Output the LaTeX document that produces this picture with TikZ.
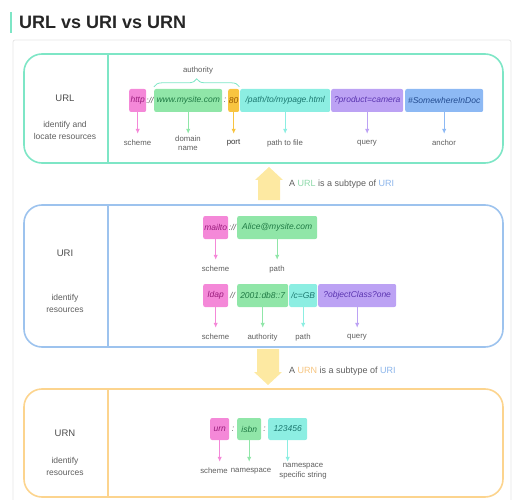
\documentclass[tikz,border=0pt]{standalone}
\usepackage{fontspec}
\setmainfont{Liberation Sans}
\usetikzlibrary{arrows.meta}
\usetikzlibrary{decorations.pathreplacing}

\definecolor{mint}{HTML}{7EE6C6}
\definecolor{sky}{HTML}{9DC3EE}
\definecolor{sand}{HTML}{FCD48E}
\definecolor{butter}{HTML}{FDE9A2}
\definecolor{pinkbox}{HTML}{F488D8}
\definecolor{pinktxt}{HTML}{9A1C7C}
\definecolor{greenbox}{HTML}{90E6A8}
\definecolor{greentxt}{HTML}{1F7A44}
\definecolor{cyanbox}{HTML}{8CEEE2}
\definecolor{cyantxt}{HTML}{1C7870}
\definecolor{purplebox}{HTML}{BCA2F4}
\definecolor{purpletxt}{HTML}{5A34B0}
\definecolor{bluebox}{HTML}{8DB9F4}
\definecolor{bluetxt}{HTML}{234C90}
\definecolor{portbox}{HTML}{F8C440}
\definecolor{porttxt}{HTML}{985800}
\definecolor{greytxt}{HTML}{5E5E5E}
\definecolor{urlword}{HTML}{8CD8A8}
\definecolor{uriword}{HTML}{8AB4EA}
\definecolor{urnword}{HTML}{F6C47E}

\begin{document}
\begin{tikzpicture}[x=1pt, y=-1pt]
   \tikzset{FrameStyle/.style={draw, line width=1.6pt, rounded corners=18pt, minimum width=479pt, inner sep=0pt}}
   \tikzset{SegStyle/.style={rounded corners=2pt, minimum height=23pt, inner xsep=0.5pt, inner ysep=0pt, anchor=west, font=\fontsize{8.5}{10}\selectfont\itshape}}
   \tikzset{pinkSeg/.style={SegStyle, fill=pinkbox, text=pinktxt}}
   \tikzset{greenSeg/.style={SegStyle, fill=greenbox, text=greentxt}}
   \tikzset{cyanSeg/.style={SegStyle, fill=cyanbox, text=cyantxt}}
   \tikzset{purpleSeg/.style={SegStyle, fill=purplebox, text=purpletxt}}
   \tikzset{blueSeg/.style={SegStyle, fill=bluebox, text=bluetxt}}
   \tikzset{portSeg/.style={SegStyle, fill=portbox, text=porttxt}}
   \tikzset{SepStyle/.style={inner sep=0pt, text=greytxt, font=\fontsize{8.5}{10}\selectfont\itshape}}
   \tikzset{LabelStyle/.style={inner sep=0pt, minimum height=18pt, align=center, text=greytxt, font=\fontsize{7.8}{9.5}\selectfont}}
   \tikzset{KindStyle/.style={inner sep=0pt, text=black!70, font=\fontsize{9.5}{11}\selectfont}}
   \tikzset{DescStyle/.style={inner sep=0pt, align=center, text=greytxt, font=\fontsize{8.5}{12}\selectfont}}
   \tikzset{ArrowStyle/.style={-{Latex[length=5pt,width=4.5pt]}, line width=1pt}}
   \useasboundingbox (0,0) rectangle (525,500);
   % title and card
   \draw[mint, line width=2.5pt] (11,12) -- (11,33);
   \node[anchor=west, inner sep=0pt, text=black!85, font=\fontsize{18}{20}\selectfont\bfseries] (title) at (19,22) {URL vs URI vs URN};
   \draw[black!10, line width=0.8pt, rounded corners=2pt] (13,510) -- (13,40) -- (511,40) -- (511,510);
   % frames
   \node[FrameStyle, mint, minimum height=109pt] (urlFrame) at (263.5,108.5) {};
   \node[FrameStyle, sky, minimum height=142pt] (uriFrame) at (263.5,276) {};
   \node[FrameStyle, sand, minimum height=108pt] (urnFrame) at (263.5,443) {};
   \draw[mint, line width=1.6pt] ([xshift=85pt]urlFrame.north west) -- ([xshift=85pt]urlFrame.south west);
   \draw[sky, line width=1.6pt] ([xshift=85pt]uriFrame.north west) -- ([xshift=85pt]uriFrame.south west);
   \draw[sand, line width=1.6pt] ([xshift=85pt]urnFrame.north west) -- ([xshift=85pt]urnFrame.south west);
   \node[KindStyle] (urlKind) at (65,98) {URL};
   \node[DescStyle] (urlDesc) at (65,130) {identify and\\locate resources};
   \node[KindStyle] (uriKind) at (65,253) {URI};
   \node[DescStyle] (uriDesc) at (65,303.5) {identify\\resources};
   \node[KindStyle] (urnKind) at (65,433) {URN};
   \node[DescStyle] (urnDesc) at (65,466) {identify\\resources};
   % URL
   \node[pinkSeg, minimum width=17pt] (http) at (129,100.5) {http};
   \node[SepStyle] (sepA) at (150,100.5) {://};
   \node[greenSeg, minimum width=68pt] (dom) at (154,100.5) {www.mysite.com};
   \node[SepStyle] (sepB) at (225,100.5) {:};
   \node[portSeg, minimum width=11pt] (port) at (228,100.5) {80};
   \node[cyanSeg, minimum width=90pt] (file) at (240,100.5) {/path/to/mypage.html};
   \node[purpleSeg, minimum width=72pt] (query) at (331,100.5) {?product=camera};
   \node[blueSeg, minimum width=78pt] (anchor) at (405,100.5) {\#SomewhereInDoc};
   \draw[mint, line width=0.8pt, decorate, decoration={brace, amplitude=8pt}] ([yshift=2pt]dom.north west) -- ([yshift=2pt]port.north east);
   \node[LabelStyle, minimum height=0pt] (authA) at (198,70) {authority};
   \node[LabelStyle] (lScheme) at (137.5,143) {scheme};
   \node[LabelStyle] (lDomain) at (188,143) {domain\\name};
   \node[LabelStyle, text=black!80] (lPort) at (233.5,143) {port};
   \node[LabelStyle] (lFile) at (285,143) {path to file};
   \node[LabelStyle] (lQuery) at (367,143) {query};
   \node[LabelStyle] (lAnchor) at (444,143) {anchor};
   \draw[ArrowStyle, pinkbox] (http) -- (http |- lScheme.north);
   \draw[ArrowStyle, greenbox] (dom) -- (dom |- lDomain.north);
   \draw[ArrowStyle, portbox] (port) -- (port |- lPort.north);
   \draw[ArrowStyle, cyanbox] (file) -- (file |- lFile.north);
   \draw[ArrowStyle, purplebox] (query) -- (query |- lQuery.north);
   \draw[ArrowStyle, bluebox] (anchor) -- (anchor |- lAnchor.north);
   % URL -> URI
   \fill[butter] (258,200) -- (258,180) -- (255,180) -- (269,167) -- (283,180) -- (280,180) -- (280,200) -- cycle;
   \node[anchor=west, inner sep=0pt, text=greytxt, font=\fontsize{9}{11}\selectfont] (urlNote) at (289,184) {A \textcolor{urlword}{URL} is a subtype of \textcolor{uriword}{URI}};
   % URI
   \node[pinkSeg, minimum width=25pt] (mailto) at (203,227.5) {mailto};
   \node[SepStyle] (sepC) at (232.5,227.5) {://};
   \node[greenSeg, minimum width=80pt] (alice) at (237,227.5) {Alice@mysite.com};
   \node[LabelStyle] (lMailto) at (215.5,269) {scheme};
   \node[LabelStyle] (lAlice) at (277,269) {path};
   \draw[ArrowStyle, pinkbox] (mailto) -- (mailto |- lMailto.north);
   \draw[ArrowStyle, greenbox] (alice) -- (alice |- lAlice.north);
   \node[pinkSeg, minimum width=25pt] (ldap) at (203,295.5) {ldap};
   \node[SepStyle] (sepD) at (232.5,295.5) {//};
   \node[greenSeg, minimum width=51pt] (host) at (237,295.5) {2001:db8::7};
   \node[cyanSeg, minimum width=28pt] (dn) at (289,295.5) {/c=GB};
   \node[purpleSeg, minimum width=78pt] (filter) at (318,295.5) {?objectClass?one};
   \node[LabelStyle] (lLdap) at (215.5,337) {scheme};
   \node[LabelStyle] (lHost) at (262.5,337) {authority};
   \node[LabelStyle] (lDn) at (303,337) {path};
   \node[LabelStyle] (lFilter) at (357,337) {query};
   \draw[ArrowStyle, pinkbox] (ldap) -- (ldap |- lLdap.north);
   \draw[ArrowStyle, greenbox] (host) -- (host |- lHost.north);
   \draw[ArrowStyle, cyanbox] (dn) -- (dn |- lDn.north);
   \draw[ArrowStyle, purplebox] (filter) -- (filter |- lFilter.north);
   % URI -> URN
   \fill[butter] (257,349) -- (257,372) -- (254,372) -- (268,385) -- (282,372) -- (279,372) -- (279,349) -- cycle;
   \node[anchor=west, inner sep=0pt, text=greytxt, font=\fontsize{9}{11}\selectfont] (urnNote) at (289,371) {A \textcolor{urnword}{URN} is a subtype of \textcolor{uriword}{URI}};
   % URN
   \node[pinkSeg, minimum width=19pt, minimum height=22pt] (urn) at (210,429) {urn};
   \node[SepStyle] (sepE) at (233,429) {:};
   \node[greenSeg, minimum width=24pt, minimum height=22pt] (isbn) at (237,429) {isbn};
   \node[SepStyle] (sepF) at (264.5,429) {:};
   \node[cyanSeg, minimum width=39pt, minimum height=22pt] (nss) at (268,429) {123456};
   \node[LabelStyle] (lUrn) at (214,471) {scheme};
   \node[LabelStyle] (lIsbn) at (251,471) {namespace};
   \node[LabelStyle] (lNss) at (303,471) {namespace\\specific string};
   \draw[ArrowStyle, pinkbox] (urn) -- (urn |- lUrn.north);
   \draw[ArrowStyle, greenbox] (isbn) -- (isbn |- lIsbn.north);
   \draw[ArrowStyle, cyanbox] (nss) -- (nss |- lNss.north);
\end{tikzpicture}
\end{document}
